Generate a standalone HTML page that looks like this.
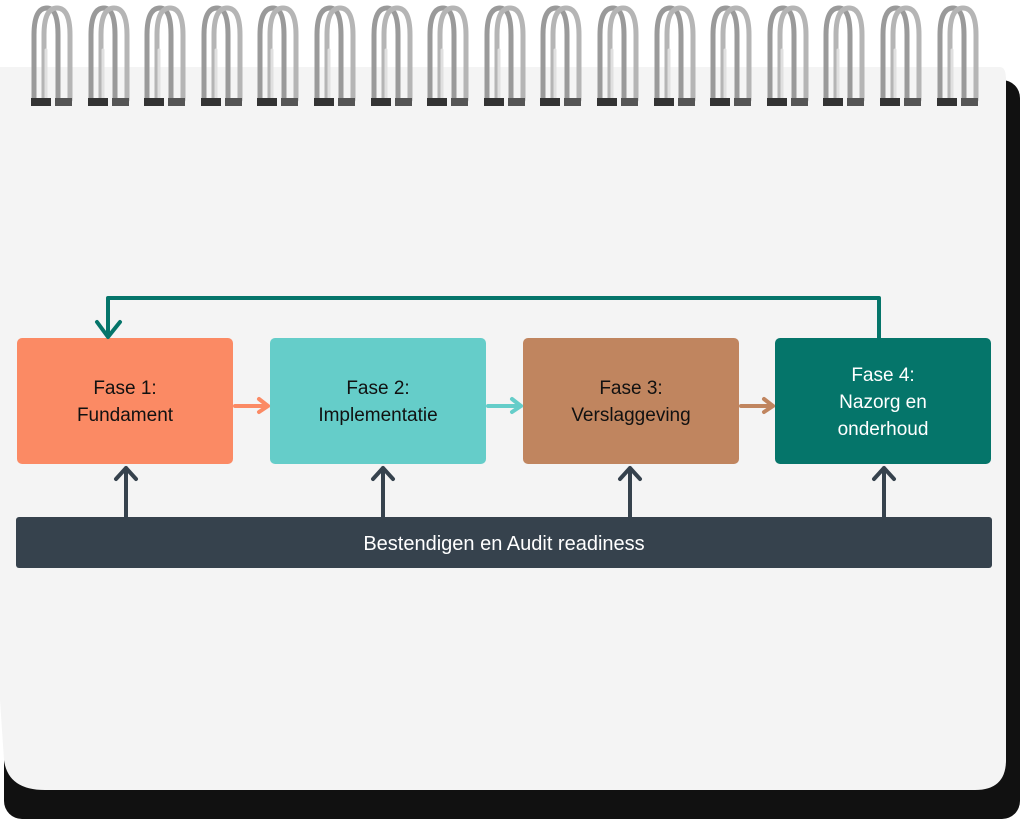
<!DOCTYPE html>
<html><head><meta charset="utf-8"><style>
html,body{margin:0;padding:0;background:#fff;}
svg{display:block}
text{font-family:"Liberation Sans",sans-serif;font-size:19px;text-anchor:middle}
</style></head><body>
<svg width="1024" height="827" viewBox="0 0 1024 827" xmlns="http://www.w3.org/2000/svg">
<defs>
<g id="r" fill="none" stroke-linecap="round">
<path d="M-16 102 V35 Q-16 8 -3 8 Q8 8 8 35 V100" stroke="#9a9a9a" stroke-width="5"/>
<path d="M-6 102 V35 Q-6 8 7 8 Q20 8 20 35 V100" stroke="#b5b5b5" stroke-width="5"/>
<path d="M-4 102 V50" stroke="#e0e0e0" stroke-width="3"/>
<rect x="-19" y="98" width="20" height="8" fill="#333" stroke="none"/>
<rect x="5" y="98" width="17" height="8" fill="#555" stroke="none"/>
</g>
</defs>
<rect x="4" y="80" width="1016" height="739" rx="18" fill="#111"/>
<path d="M0 67 H1000 Q1006 67 1006 80 V760 Q1006 790 975 790 H45 Q8 790 4 760 L0 700 Z" fill="#f4f4f4"/>
<use href="#r" x="50"/><use href="#r" x="107"/><use href="#r" x="163"/><use href="#r" x="220"/>
<use href="#r" x="276"/><use href="#r" x="333"/><use href="#r" x="390"/><use href="#r" x="446"/>
<use href="#r" x="503"/><use href="#r" x="559"/><use href="#r" x="616"/><use href="#r" x="673"/>
<use href="#r" x="729"/><use href="#r" x="786"/><use href="#r" x="842"/><use href="#r" x="899"/>
<use href="#r" x="956"/>
<rect x="17" y="338" width="216" height="126" rx="5" fill="#fb8a64"/>
<rect x="270" y="338" width="216" height="126" rx="5" fill="#65cdc9"/>
<rect x="523" y="338" width="216" height="126" rx="5" fill="#c0855f"/>
<rect x="775" y="338" width="216" height="126" rx="5" fill="#05756a"/>
<rect x="16" y="517" width="976" height="51" rx="3" fill="#36424d"/>
<g fill="none" stroke-linecap="round" stroke-linejoin="round" stroke-width="4">
<path d="M879 338 V298 H108 V336 M97 322 L108 337 L120 322" stroke="#05756a"/>
<path d="M235 406 H268 M259 399 L268 406 L259 412" stroke="#fb8a64"/>
<path d="M488 406 H521 M512 399 L521 406 L512 412" stroke="#65cdc9"/>
<path d="M741 406 H773 M764 399 L773 406 L764 412" stroke="#c0855f"/>
<g stroke="#36424d">
<path d="M126 517 V468 M116 479 L126 468 L136 479"/>
<path d="M383 517 V468 M373 479 L383 468 L393 479"/>
<path d="M630 517 V468 M620 479 L630 468 L640 479"/>
<path d="M884 517 V468 M874 479 L884 468 L894 479"/>
</g></g>
<text x="125" y="394" fill="#111">Fase 1:</text>
<text x="125" y="421" fill="#111">Fundament</text>
<text x="378" y="394" fill="#111">Fase 2:</text>
<text x="378" y="421" fill="#111">Implementatie</text>
<text x="631" y="394" fill="#111">Fase 3:</text>
<text x="631" y="421" fill="#111">Verslaggeving</text>
<text x="883" y="381" fill="#fff">Fase 4:</text>
<text x="883" y="408" fill="#fff">Nazorg en</text>
<text x="883" y="435" fill="#fff">onderhoud</text>
<text x="504" y="550" fill="#fff" style="font-size:20px">Bestendigen en Audit readiness</text>
</svg>
</body></html>
